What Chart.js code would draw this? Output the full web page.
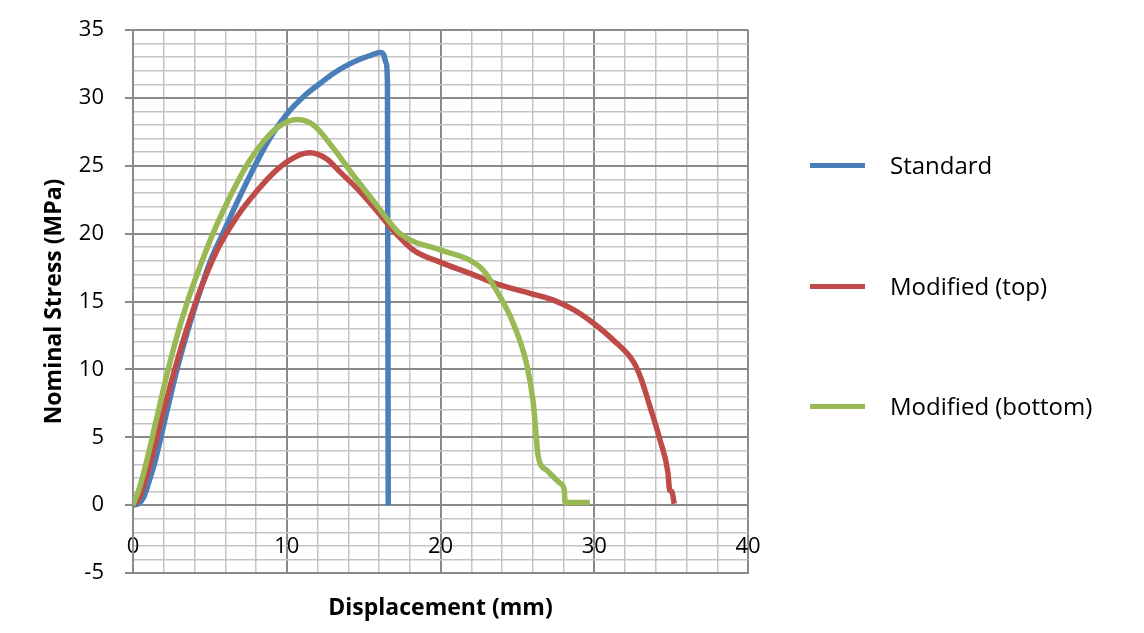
<!DOCTYPE html>
<html>
<head>
<meta charset="utf-8">
<script src="https://cdn.jsdelivr.net/npm/chart.js@4.4.1/dist/chart.umd.min.js"></script>
<style>
  html, body { margin: 0; padding: 0; background: #fff; }
  #wrap { position: relative; width: 1144px; height: 633px; }
  #legend { position: absolute; left: 810px; top: 0; font-family: "Open Sans", sans-serif; font-size: 24px; color: #000; }
  #legend .item { position: absolute; left: 0; height: 30px; line-height: 30px; white-space: nowrap; display: flex; align-items: center; }
  #legend .swatch { width: 55px; height: 5px; margin-right: 25px; }
</style>
</head>
<body>
<div id="wrap">
  <canvas id="stressChart" width="1144" height="633"></canvas>
  <div id="legend"></div>
</div>
<script>
// series names and colours
const seriesNames = ['Standard', 'Modified (top)', 'Modified (bottom)'];
const seriesColors = ['#4a7ebb', '#be4b48', '#98b954'];

// Standard
const standardX = [0, 0.35, 0.7, 1.0, 1.43, 2.08, 2.84, 3.5, 4.2, 5.0, 5.8, 6.6, 7.4, 8.2, 9.0, 10.0, 11.3, 12.2, 13.03, 14.0, 14.76, 15.5, 16.07, 16.3, 16.45, 16.55, 16.6];
const standardY = [0, 0.1, 0.6, 1.6, 3.2, 6.3, 9.9, 12.6, 15.2, 17.9, 19.9, 21.9, 23.8, 25.6, 27.2, 28.8, 30.3, 31.1, 31.8, 32.45, 32.85, 33.15, 33.35, 33.2, 32.6, 31.0, 0];

// Modified (top)
const topX = [0, 0.4, 1.1, 1.87, 2.62, 3.45, 4.36, 5.44, 6.74, 8.03, 9.35, 10.65, 11.5, 12.6, 13.46, 14.76, 16.07, 16.72, 18.23, 19.97, 21.92, 23.65, 25.82, 27.34, 28.65, 29.95, 31.25, 32.55, 33.0, 33.63, 34.28, 34.8, 34.9, 35.05, 35.2];
const topY = [0, 0.5, 3.0, 6.4, 9.6, 12.8, 15.8, 18.7, 21.2, 23.1, 24.7, 25.7, 25.95, 25.5, 24.55, 23.1, 21.4, 20.5, 18.8, 17.9, 17.07, 16.3, 15.6, 15.1, 14.4, 13.4, 12.15, 10.55, 9.45, 7.24, 4.79, 2.33, 1.1, 1.0, 0.1];

// Modified (bottom)
const bottomX = [0, 0.4, 0.9, 1.5, 2.2, 2.9, 3.6, 4.4, 5.2, 6.0, 6.8, 7.6, 8.5, 9.5, 10.65, 11.73, 13.03, 14.33, 15.85, 17.37, 19.97, 21.9, 22.78, 23.65, 24.73, 25.6, 26.04, 26.36, 26.9, 27.8, 28.05, 28.1, 29.72];
const bottomY = [0, 1.2, 3.3, 6.2, 9.6, 12.6, 15.2, 17.7, 20.0, 22.0, 23.8, 25.4, 26.8, 27.9, 28.4, 28.0, 26.3, 24.3, 22.1, 20.0, 18.8, 18.05, 17.3, 15.8, 13.4, 10.4, 7.5, 3.56, 2.58, 1.6, 1.1, 0.2, 0.2];

// axis ticks
const xTickLabels = [0, 10, 20, 30, 40];
const yTickLabels = [-5, 0, 5, 10, 15, 20, 25, 30, 35];

function toPoints(xs, ys) {
    return xs.map((x, i) => ({ x: x, y: ys[i] }));
}

const majorGrid = '#8a8a8a';
const minorGrid = '#c4c4c4';
const xTickFont = { family: '"Open Sans", sans-serif', size: 22 };
// short line height keeps the plot top where Excel puts it
const yTickFont = { family: '"Open Sans", sans-serif', size: 22, lineHeight: 0.8 };
const titleFont = { family: '"Open Sans", sans-serif', size: 23, weight: 'bold' };

const seriesData = [
    toPoints(standardX, standardY),
    toPoints(topX, topY),
    toPoints(bottomX, bottomY)
];

const ctx = document.getElementById('stressChart').getContext('2d');

const stressChart = new Chart(ctx, {
    type: 'scatter',
    data: {
        datasets: seriesNames.map((name, i) => ({
            label: name,
            data: seriesData[i],
            showLine: true,
            borderColor: seriesColors[i],
            backgroundColor: seriesColors[i],
            borderWidth: 5.5,
            pointRadius: 0,
            cubicInterpolationMode: 'monotone',
            order: 2 - i
        }))
    },
    options: {
        responsive: false,
        animation: false,
        layout: { padding: { top: 30, right: 396, bottom: 0, left: 0 } },
        plugins: {
            legend: { display: false },
            tooltip: { enabled: false }
        },
        scales: {
            // grid, frame and title of the horizontal axis
            x: {
                type: 'linear',
                min: 0,
                max: 40,
                ticks: {
                    stepSize: 2,
                    autoSkip: false,
                    display: false
                },
                grid: {
                    drawTicks: false,
                    color: c => (c.tick && c.tick.value % 10 === 0) ? majorGrid : minorGrid,
                    lineWidth: c => (c.tick && c.tick.value % 10 === 0) ? 2 : 1.5
                },
                border: { color: majorGrid, width: 2 },
                title: {
                    display: true,
                    text: 'Displacement (mm)',
                    color: '#000',
                    font: titleFont,
                    padding: { top: 0, bottom: 11 }
                },
                afterFit: scale => { scale.height = 60; }
            },
            // tick labels sit under the zero line, like Excel's axis crossing
            xLabels: {
                type: 'linear',
                position: { y: 0 },
                min: 0,
                max: 40,
                ticks: {
                    stepSize: 10,
                    autoSkip: false,
                    maxRotation: 0,
                    padding: 28,
                    color: '#000',
                    font: xTickFont,
                    callback: v => xTickLabels.includes(v) ? v : ''
                },
                grid: { display: false, drawTicks: false },
                border: { display: false }
            },
            y: {
                type: 'linear',
                min: -5,
                max: 35,
                ticks: {
                    stepSize: 1,
                    autoSkip: false,
                    padding: 21,
                    color: '#000',
                    font: yTickFont,
                    callback: v => yTickLabels.includes(v) ? v : ''
                },
                grid: {
                    tickLength: 8,
                    color: c => (c.tick && c.tick.value % 5 === 0) ? majorGrid : minorGrid,
                    tickColor: c => (c.tick && c.tick.value % 5 === 0) ? majorGrid : 'rgba(0,0,0,0)',
                    lineWidth: c => (c.tick && c.tick.value % 5 === 0) ? 2 : 1.5
                },
                border: { color: majorGrid, width: 2 },
                title: {
                    display: true,
                    text: 'Nominal Stress (MPa)',
                    color: '#000',
                    font: titleFont,
                    padding: { top: 41, bottom: 0 }
                },
                afterFit: scale => { scale.width = 133; }
            }
        }
    }
});

// legend on the right
const legendBox = document.getElementById('legend');
const legendCenters = [165, 286, 406];
seriesNames.forEach((name, i) => {
    const item = document.createElement('div');
    item.className = 'item';
    item.style.top = (legendCenters[i] - 15) + 'px';
    const swatch = document.createElement('span');
    swatch.className = 'swatch';
    swatch.style.background = seriesColors[i];
    const label = document.createElement('span');
    label.textContent = name;
    item.appendChild(swatch);
    item.appendChild(label);
    legendBox.appendChild(item);
});
</script>
</body>
</html>
